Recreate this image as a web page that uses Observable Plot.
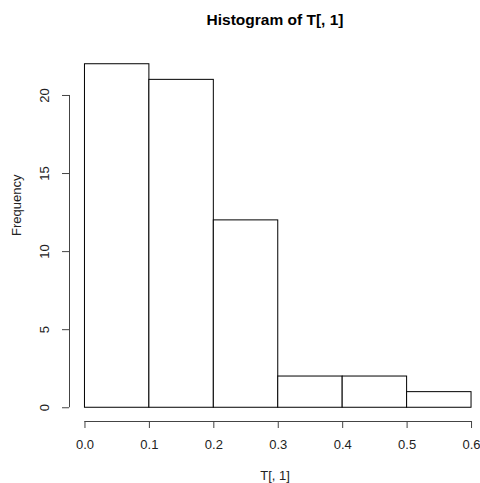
<!DOCTYPE html>
<html><head><meta charset="utf-8">
<script src="https://cdn.jsdelivr.net/npm/d3@7"></script>
<script src="https://cdn.jsdelivr.net/npm/@observablehq/plot@0.6"></script>
<style>body{margin:0;background:#fff}</style>
</head><body><div id="chart"></div>
<script>
const breaks = [0, 0.1, 0.2, 0.3, 0.4, 0.5, 0.6];
const counts = [22, 21, 12, 2, 2, 1];
const xTicks = [0, 0.1, 0.2, 0.3, 0.4, 0.5, 0.6];
const yTicks = [0, 5, 10, 15, 20];
const title = "Histogram of T[, 1]";
const xLabel = "T[, 1]";
const yLabel = "Frequency";

const bins = counts.map((c, i) => ({x1: breaks[i], x2: breaks[i + 1], y: c}));
const xmin = breaks[0], xmax = breaks[breaks.length - 1];
const ymax = d3.max(counts);
const xpad = 0.04 * (xmax - xmin), ypad = 0.04 * ymax;
const xlo = xmin - xpad, ylo = -ypad;
const font = "Liberation Sans, Arial, Helvetica, sans-serif";

const plot = Plot.plot({
  width: 480, height: 483,
  marginLeft: 69, marginRight: 0, marginTop: 50, marginBottom: 62,
  style: {fontFamily: font, background: "#fff", color: "#000"},
  x: {domain: [xlo, xmax + xpad], range: [69, 486.5]},
  y: {domain: [ylo, ymax + ypad], range: [421, 50]},
  marks: [
    Plot.rectY(bins, {x1: "x1", x2: "x2", y1: 0, y2: "y", fill: "white", stroke: "black", strokeWidth: 1}),
    // y axis
    Plot.ruleX([xlo], {y1: yTicks[0], y2: yTicks[yTicks.length - 1], stroke: "#444"}),
    Plot.axisY({ticks: yTicks, tickSize: 7, text: null, label: null, anchor: "left", stroke: "#444"}),
    Plot.text(yTicks, {x: xlo, y: d => d, text: d => String(d), rotate: -90, dx: -25, fontSize: 13, fill: "#222"}),
    // x axis
    Plot.ruleY([ylo], {x1: xTicks[0], x2: xTicks[xTicks.length - 1], stroke: "#444"}),
    Plot.axisX({ticks: xTicks, tickSize: 7, text: null, label: null, anchor: "bottom", stroke: "#444"}),
    Plot.text(xTicks, {x: d => d, y: ylo, text: d => d.toFixed(1), dy: 23, fontSize: 13, fill: "#222"}),
    // titles
    Plot.text([title], {frameAnchor: "top", lineAnchor: "middle", dy: -30, fontSize: 15.5, fontWeight: "bold", fill: "#000"}),
    Plot.text([xLabel], {frameAnchor: "bottom", lineAnchor: "middle", dy: 54, fontSize: 13, fill: "#222"}),
    Plot.text([yLabel], {frameAnchor: "left", dx: -53, rotate: -90, fontSize: 13, fill: "#222"})
  ]
});
document.getElementById("chart").appendChild(plot);
</script>
</body></html>
